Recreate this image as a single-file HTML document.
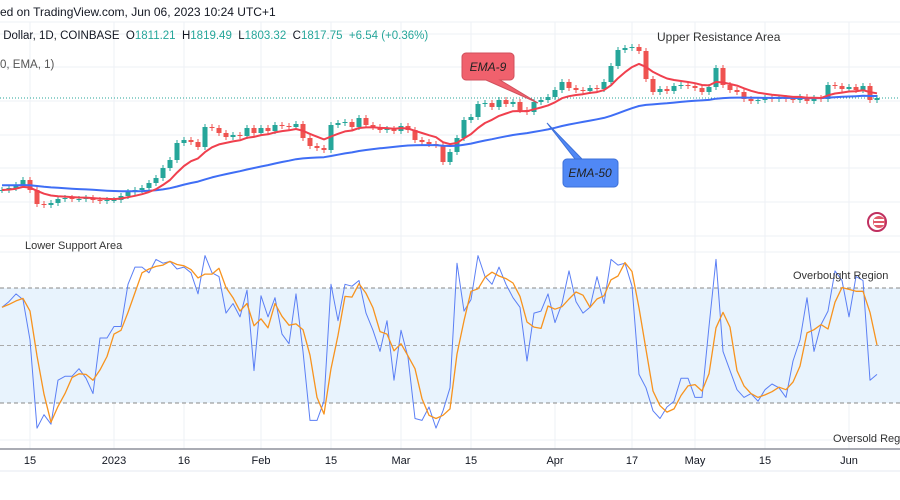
<!DOCTYPE html>
<html><head><meta charset="utf-8">
<style>
html,body{margin:0;padding:0;background:#fff;}
body{width:900px;height:500px;overflow:hidden;position:relative;font-family:"Liberation Sans",sans-serif;}
svg{position:absolute;left:0;top:0;}
text{white-space:pre;}
</style></head>
<body>
<svg id="chart" width="900" height="500" viewBox="0 0 900 500">
  <g id="grid"></g>
  <rect x="0" y="288" width="900" height="115" fill="#e8f3fd"/>
  <line x1="0" y1="288" x2="900" y2="288" stroke="#888" stroke-dasharray="4,3"/>
  <line x1="0" y1="345.5" x2="900" y2="345.5" stroke="#aaa" stroke-dasharray="4,3"/>
  <line x1="0" y1="403" x2="900" y2="403" stroke="#888" stroke-dasharray="4,3"/>
  <line x1="0" y1="98" x2="900" y2="98" stroke="#26a69a" stroke-dasharray="1,2"/>
  <g id="candles"></g>
  <g id="lines"></g>
  <line x1="0" y1="449" x2="900" y2="449" stroke="#787b86" stroke-width="1.2"/>
  <line x1="0" y1="471" x2="900" y2="471" stroke="#e6e9f0"/>
  <g id="xlabels" font-size="11" fill="#131722" text-anchor="middle"></g>

  <text x="0" y="16" font-size="12" fill="#131722">ed on TradingView.com, Jun 06, 2023 10:24 UTC+1</text>
  <text x="0" y="39" font-size="11.5" fill="#131722"> Dollar, 1D, COINBASE  O<tspan fill="#26a69a">1811.21</tspan>  H<tspan fill="#26a69a">1819.49</tspan>  L<tspan fill="#26a69a">1803.32</tspan>  C<tspan fill="#26a69a">1817.75</tspan>  <tspan fill="#26a69a">+6.54 (+0.36%)</tspan></text>
  <text x="0" y="68" font-size="11.5" fill="#555">0, EMA, 1)</text>
  <text x="657" y="41" font-size="12" fill="#333">Upper Resistance Area</text>
  <text x="25" y="249" font-size="11" fill="#333">Lower Support Area</text>
  <text x="793" y="279" font-size="11" fill="#333">Overbought Region</text>
  <text x="833" y="442" font-size="11" fill="#333">Oversold Region</text>

  <g>
    <path d="M466,53 h44 a4,4 0 0 1 4,4 v19 a4,4 0 0 1 -4,4 h-10 l38,23 l-52,-23 h-20 a4,4 0 0 1 -4,-4 v-19 a4,4 0 0 1 4,-4z" fill="#f0616d" stroke="#d0505c"/>
    <text x="488" y="71" font-size="12" font-style="italic" fill="#222" text-anchor="middle">EMA-9</text>
  </g>
  <g>
    <path d="M567,159 h47 a4,4 0 0 1 4,4 v20 a4,4 0 0 1 -4,4 h-47 a4,4 0 0 1 -4,-4 v-20 a4,4 0 0 1 4,-4 h8 l-28,-36 l35,36z" fill="#5088f5" stroke="#3d70d8"/>
    <text x="590" y="177" font-size="12" font-style="italic" fill="#222" text-anchor="middle">EMA-50</text>
  </g>
  <g>
    <circle cx="877" cy="222" r="9" fill="#fff" stroke="#c03060" stroke-width="2"/>
    <circle cx="879" cy="222" r="6" fill="#e05a6a"/>
    <rect x="874" y="219" width="10" height="2" fill="#fff"/>
    <rect x="874" y="223" width="10" height="2" fill="#fff"/>
  </g>
</svg>
<script>
// ---- data ----
const closes = [1725,1727,1730,1735,1725,1711,1710,1712,1716,1717,1716,1716,1717,1715,1714,1715,1715,1719,1723,1725,1727,1732,1737,1747,1755,1772,1775,1773,1768,1788,1787,1782,1778,1780,1779,1787,1782,1787,1784,1790,1789,1788,1791,1777,1769,1767,1765,1790,1792,1793,1788,1797,1790,1788,1785,1786,1784,1789,1785,1775,1773,1771,1770,1753,1763,1777,1795,1798,1811,1812,1808,1815,1811,1813,1805,1803,1813,1815,1818,1825,1833,1827,1825,1824,1827,1826,1833,1849,1865,1867,1868,1864,1836,1823,1826,1824,1829,1830,1829,1827,1823,1828,1847,1830,1825,1823,1816,1814,1815,1817,1816,1817,1816,1815,1818,1814,1817,1816,1830,1829,1826,1828,1825,1829,1815,1817];
const ema50Seed = 1730;
const stochK = [70,73,77,74,53,7,14,9,32,34,34,38,33,25,54,54,60,60,82,91,91,88,95,93,94,90,91,88,77,97,88,86,67,72,65,79,37,76,65,75,56,51,77,47,11,11,21,82,63,82,81,84,67,58,47,63,32,58,44,12,11,18,7,16,28,93,68,74,97,86,82,91,82,75,70,42,67,68,77,62,72,89,73,67,70,86,72,95,92,93,81,35,28,16,12,18,21,33,33,23,23,60,95,47,37,27,23,25,21,27,30,28,23,42,53,75,47,61,68,89,84,65,86,84,32,35];
const tickLabels = ["15","2023","16","Feb","15","Mar","15","Apr","17","May","15","Jun"];
const tickBars = [4,16,26,37,47,57,67,79,90,99,109,121];

// ---- axes ----
const xBar = i => 2 + i*7;
const yPrice = p => 1915 - p;
const yStoch = v => 441.5 - v*1.917;
const NS = "http://www.w3.org/2000/svg";
function mk(tag, attrs, parent){const e=document.createElementNS(NS,tag);for(const k in attrs)e.setAttribute(k,attrs[k]);parent.appendChild(e);return e;}

// grid
const grid = document.getElementById('grid');
[22,34,67,101,135,168,202,236,252,327,365,440].forEach(y=>{
  const l = mk('line',{x1:0,x2:900,y1:y,y2:y,stroke:'#eef1f6'},grid);
  
  
});
const xl = document.getElementById('xlabels');
tickBars.forEach((b,i)=>{
  const x = xBar(b);
  const l = mk('line',{x1:x,x2:x,y1:22,y2:449,stroke:'#eef1f6'},grid);
  
  
  const t = mk('text',{x:x,y:464},xl);
  t.textContent = tickLabels[i];
  
  
});

// candles
const cg = document.getElementById('candles');
closes.forEach((c,i)=>{
  const o = i===0 ? c : closes[i-1];
  const up = c >= o;
  const col = up ? '#26a69a' : '#ef5350';
  const x = xBar(i);
  const top = yPrice(Math.max(o,c)), bot = yPrice(Math.min(o,c));
  const w = mk('line',{x1:x,x2:x,y1:top-3,y2:bot+3,stroke:col,'stroke-width':1},cg);
  
  
  const r = mk('rect',{x:x-2.5,y:top,width:5,height:Math.max(1,bot-top),fill:col},cg);
  
  
});

// EMAs
function ema(arr,n,seed){const a=2/(n+1);let e=seed;return arr.map(v=>(e=e+a*(v-e)));}
const ema9 = ema(closes,9,closes[0]);
const ema50 = ema(closes,50,ema50Seed);
const lg = document.getElementById('lines');
function poly(vals, yf, col, w, name){
  const p = mk('polyline',{points:vals.map((v,i)=>xBar(i)+','+yf(v).toFixed(1)).join(' '),fill:'none',stroke:col,'stroke-width':w,'stroke-linejoin':'round'},lg);
  
  
}
poly(ema50,yPrice,'#3f6ef5',2,'ema-50-line');
poly(ema9,yPrice,'#f0404e',2,'ema-9-line');

// stochastic
const stochD = stochK.map((v,i)=>{const s=stochK.slice(Math.max(0,i-2),i+1);return s.reduce((a,b)=>a+b,0)/s.length;});
poly(stochK,yStoch,'#5b7ff5',1,'stoch-k-line');
poly(stochD,yStoch,'#f7931e',1.3,'stoch-d-line');
</script>
</body></html>
